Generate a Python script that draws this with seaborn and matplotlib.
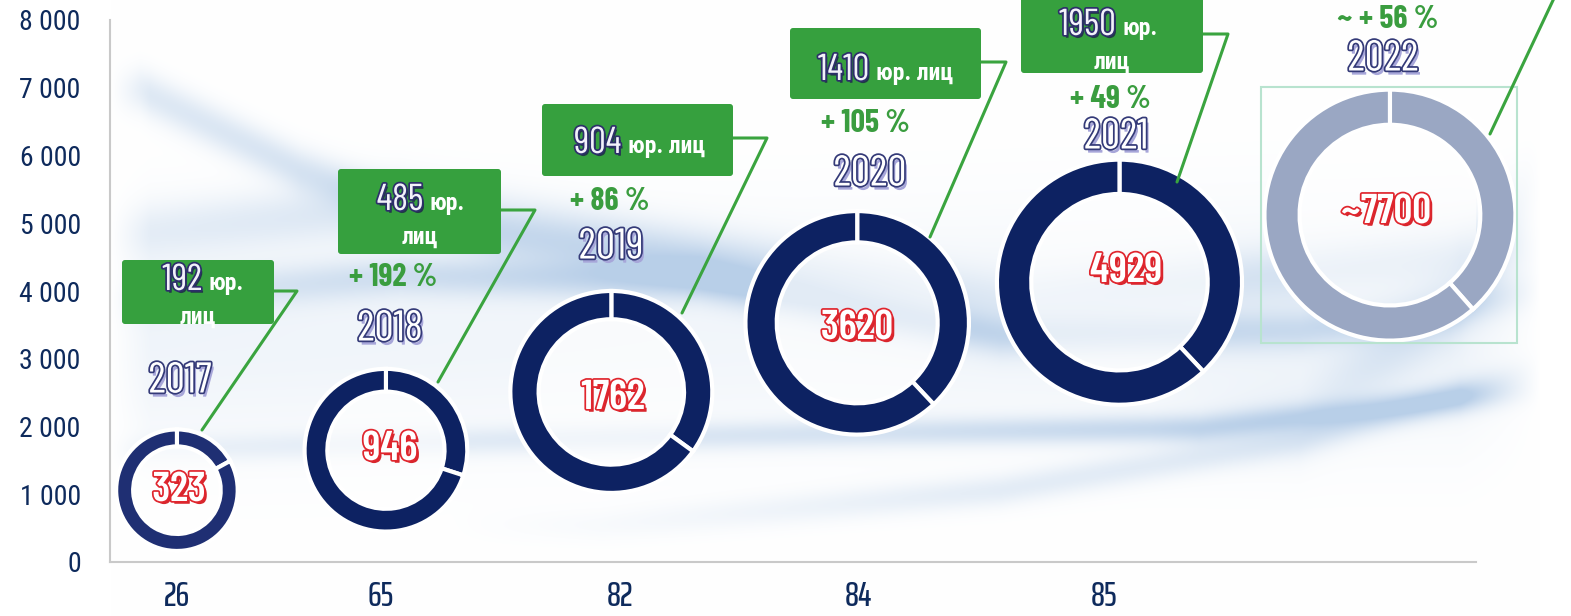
import numpy as np
import pandas as pd
import seaborn as sns
import matplotlib.pyplot as plt
from matplotlib import transforms, patheffects as pe
from matplotlib.patches import FancyBboxPatch, Rectangle
from matplotlib.lines import Line2D

# ---- data ----
years = ["2017", "2018", "2019", "2020", "2021", "2022"]
totals = ["323", "946", "1762", "3620", "4929", "~7700"]
legal = ["192", "485", "904", "1410", "1950"]
growth = ["+ 192 %", "+ 86 %", "+ 105 %", "+ 49 %", "~ + 56 %"]
ring_share = [0.17, 0.30, 0.35, 0.38, 0.38, 0.385]
bubble_x = [4.9, 20.2, 36.7, 54.7, 73.9, 93.7]
bubble_y = [1060, 1650, 2510, 3530, 4130, 5120]
bottom_labels = ["26", "65", "82", "84", "85"]
bottom_x = [4.9, 19.8, 37.3, 54.8, 72.8]

df = pd.DataFrame({"year": years, "x": bubble_x, "y": bubble_y, "share": ring_share})

W, H = 1571, 616
NAVY = "#0d2262"
GREEN = "#36a03e"
RED = "#e0262e"
CYR = ["Roboto Condensed", "DejaVu Sans"]
DIG = ["Barlow Condensed", "Roboto Condensed", "DejaVu Sans"]
NARROW = ["Saira ExtraCondensed", "Roboto Condensed", "DejaVu Sans"]

sns.set_theme(style="white")
plt.rcParams["font.family"] = CYR

fig = plt.figure(figsize=(W / 100, H / 100), dpi=100)
P = transforms.Affine2D().scale(1, -1).translate(0, H)  # image pixels, top-left origin

# soft background swooshes (decoration only)
bg = fig.add_axes([0, 0, 1, 1], zorder=-1)
bg.axis("off")
gx = np.arange(W)
gy = np.arange(H)[:, None]
swoosh = [
    ([110, 400, 700, 1000, 1300, 1540], [300, 275, 280, 335, 330, 290], 20, [0.15, 0.3, 0.42, 0.35, 0.3, 0.4]),
    ([110, 400, 700, 1000, 1540], [235, 205, 255, 300, 250], 28, [0.15, 0.25, 0.3, 0.15, 0.3]),
    ([110, 500, 900, 1200, 1540], [450, 440, 432, 428, 390], 14, [0.1, 0.2, 0.3, 0.42, 0.3]),
    ([140, 300, 500, 800], [90, 170, 240, 280], 22, [0.25, 0.3, 0.2, 0.05]),
    ([600, 1000, 1300, 1540], [525, 490, 440, 370], 16, [0.05, 0.2, 0.2, 0.3]),
    ([110, 800, 1540], [340, 330, 320], 110, [0.12, 0.10, 0.14]),
    ([1300, 1450, 1540], [420, 300, 180], 40, [0.1, 0.25, 0.3]),
]
field = np.zeros((H, W))
for bx, by, w, a in swoosh:
    c = np.interp(gx, bx, by)
    amp = np.interp(gx, [bx[0] - 150] + bx + [bx[-1] + 150], [0] + a + [0])
    field += amp[None, :] * np.exp(-((gy - c[None, :]) / w) ** 2)
fade = np.clip((gx - 110) / 40, 0, 1) * np.clip((1540 - gx) / 80, 0, 1)
field = np.clip(field * fade[None, :], 0, 0.55)
blue = np.array([0.50, 0.66, 0.84])
img = 1 - field[..., None] * (1 - blue)
bg.imshow(img, extent=[0, W, H, 0], aspect="auto")
bg.set_xlim(0, W)
bg.set_ylim(H, 0)

# main axes
ax = fig.add_axes([110 / W, 54 / H, 1366 / W, 542 / H], zorder=2)
ax.patch.set_alpha(0)
ax.set_xlim(0, 100)
ax.set_ylim(0, 8000)

fig.canvas.draw()
radius_px = [60, 81, 101, 112, 123, 126]
ring_col = ["#1f2f73", NAVY, NAVY, NAVY, NAVY, "#9aa7c3"]

# whiter donut holes
hole_s = [(2 * r * 0.72 * 0.72) ** 2 for r in radius_px]
sns.scatterplot(data=df, x="x", y="y", s=hole_s, color="white", alpha=0.6,
                edgecolor="none", legend=False, ax=ax, zorder=1)

sns.despine(ax=ax, top=True, right=True)
for s in ["left", "bottom"]:
    ax.spines[s].set_color("#c9c9c9")
    ax.spines[s].set_linewidth(1.5)
ax.set_yticks(range(0, 8001, 1000))
ax.set_yticklabels([f"{v:,}".replace(",", " ") for v in range(0, 8001, 1000)])
ax.set_xticks(bottom_x)
ax.set_xticklabels(bottom_labels)
ax.tick_params(axis="y", length=0, pad=21, labelsize=20, labelcolor="#0e2a5c")
ax.tick_params(axis="x", length=0, pad=13, labelsize=25, labelcolor="#0e2a5c")
for lab in ax.get_xticklabels():
    lab.set_family(NARROW)
    lab.set_fontweight("medium")
ax.set_xlabel("")
ax.set_ylabel("")

for i, row in df.iterrows():
    cx, cy = ax.transData.transform((row["x"], row["y"]))
    r = radius_px[i] + 2
    pa = fig.add_axes([(cx - r) / W, (cy - r) / H, 2 * r / W, 2 * r / H], zorder=1)
    pa.pie([row["share"], 1 - row["share"]], startangle=90, counterclock=False,
           colors=[ring_col[i]] * 2,
           wedgeprops=dict(width=0.28, edgecolor="white", linewidth=3))
    pa.set_xlim(-1.02, 1.02)
    pa.set_ylim(-1.02, 1.02)
    pa.set_aspect("equal")

# 2022 frame
fig.add_artist(Rectangle((1261, 87), 256, 256, transform=P, fill=False,
                         edgecolor="#b8e3cf", lw=1.5, zorder=3))

# text styles
year_fx = [pe.withSimplePatchShadow(offset=(2, -3), shadow_rgbFace="#a7a6d9", alpha=1),
           pe.Stroke(linewidth=2.5, foreground="#343a78"), pe.Normal()]
red_fx = [pe.withSimplePatchShadow(offset=(2, -2), shadow_rgbFace="#d7262d", alpha=1),
          pe.Stroke(linewidth=2.5, foreground=RED), pe.Normal()]
num_fx = [pe.withSimplePatchShadow(offset=(1.5, -2), shadow_rgbFace="#1c1f4a", alpha=0.8),
          pe.Stroke(linewidth=2.5, foreground="#2d2f6a"), pe.Normal()]

year_pos = [(180, 382), (390, 330), (611, 248), (870, 175), (1116, 138), (1383, 60)]
for t, (x, y) in zip(years, year_pos):
    fig.text(x, y, t, transform=P, ha="center", va="center", fontsize=31,
             family=DIG, color="white", path_effects=year_fx, zorder=5)

num_pos = [(179, 490), (390, 449), (613, 398), (857, 328), (1126, 271), (1386, 212)]
for t, (x, y) in zip(totals, num_pos):
    fig.text(x, y, t, transform=P, ha="center", va="center", fontsize=30,
             family=DIG, fontweight="semibold", color="white",
             path_effects=red_fx, zorder=5)

growth_pos = [(393, 277), (610, 201), (865, 124), (1110, 100), (1388, 20)]
for t, (x, y) in zip(growth, growth_pos):
    fig.text(x, y, t, transform=P, ha="center", va="center", fontsize=23,
             family=DIG, fontweight="bold", color="#3a9d3f", zorder=5)

# green callouts
boxes = [(122, 260, 274, 324), (338, 169, 501, 254), (542, 104, 733, 176),
         (790, 28, 981, 99), (1021, -4, 1203, 73)]
base = [290, 210, 153, 80, 35]
two_line = [True, True, False, False, True]
leaders = [[(274, 291), (297, 291), (202, 430)],
           [(501, 210), (535, 210), (438, 382)],
           [(733, 138), (767, 138), (682, 313)],
           [(981, 62), (1006, 62), (930, 237)],
           [(1203, 34), (1228, 34), (1177, 182)],
           [(1556, -6), (1490, 134)]]
for pts in leaders:
    px, py = zip(*pts)
    fig.add_artist(Line2D(px, py, transform=P, color="#3aa43f", lw=2.2, zorder=3))

for (x0, y0, x1, y1), n, b, two in zip(boxes, legal, base, two_line):
    fig.add_artist(FancyBboxPatch((x0, y0), x1 - x0, y1 - y0, transform=P,
                                  boxstyle="round,pad=0,rounding_size=3",
                                  facecolor=GREEN, edgecolor="none", zorder=4))
    xm = (x0 + x1) / 2
    split = xm + 4 if two else xm - 16
    fig.text(split, b, n, transform=P, ha="right", va="baseline", family=DIG,
             fontsize=27, color="#f2f2fa", path_effects=num_fx, zorder=6)
    fig.text(split + 6, b, "юр." if two else "юр. лиц", transform=P, ha="left",
             va="baseline", fontsize=17, fontweight="bold", color="white", zorder=6)
    if two:
        fig.text(xm, b + 34, "лиц", transform=P, ha="center", va="baseline",
                 fontsize=17, fontweight="bold", color="white", zorder=6)

fig.savefig("out.png", dpi=100)
